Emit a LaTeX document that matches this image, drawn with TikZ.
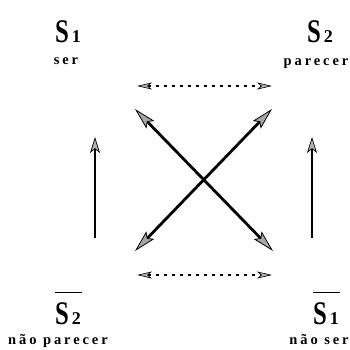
\documentclass[tikz,border=0pt]{standalone}
\usepackage{fontspec}
\setmainfont{Liberation Serif}
\usepackage{graphicx}
\usepackage{tikz}
\usetikzlibrary{arrows.meta,positioning}
\newcommand{\term}[2]{{\fontsize{33}{33}\selectfont\scalebox{0.75}[1]{#1}}\hspace{3pt}{\fontsize{18}{18}\selectfont #2}}
\newcommand{\negterm}[2]{\rlap{\raisebox{31pt}{\rule{27pt}{1pt}}}\term{#1}{#2}}
\begin{document}
\begin{tikzpicture}[
        x=1pt,y=-1pt,
        term/.style={font=\bfseries,inner sep=0pt,anchor=base west},
        gloss/.style={font=\fontsize{14.5}{14.5}\selectfont\addfontfeatures{LetterSpace=20}\bfseries,inner sep=0pt,anchor=base},
        diag/.style={{Stealth[length=22pt,width=11pt,inset=4pt,line width=0.8pt,fill=gray!70]}-{Stealth[length=22pt,width=11pt,inset=4pt,line width=0.8pt,fill=gray!70]},line width=2.8pt},
        vert/.style={-{Stealth[length=16pt,width=10pt,inset=4pt,line width=0.7pt,fill=gray!60]},line width=2pt},
        contra/.style={{Stealth[length=15pt,width=7pt,inset=4pt,line width=0.6pt,fill=gray!60]}-{Stealth[length=15pt,width=7pt,inset=4pt,line width=0.6pt,fill=gray!60]},line width=1.1pt,dash pattern=on 3pt off 5pt}
      ]
      \useasboundingbox (0,0) rectangle (350,350);

      % the four terms of the square
      \node[term] (s1) at (55,43) {\term{S}{1}};
      \node[gloss] (ser) at (66,65) {ser};
      \node[term] (s2) at (307,43) {\term{S}{2}};
      \node[gloss] (parecer) at (316,66) {parecer};
      \node[term] (ns2) at (55,324) {\negterm{S}{2}};
      \node[gloss] (naoparecer) at (58,344) {não parecer};
      \node[term] (ns1) at (313,324) {\negterm{S}{1}};
      \node[gloss] (naoser) at (319,344) {não ser};

      % arrow ends
      \coordinate (tl) at (137,86);
      \coordinate (tr) at (272,86);
      \coordinate (bl) at (137,275);
      \coordinate (br) at (272,275);
      \coordinate (ul) at (135,109);
      \coordinate (ur) at (272,109);
      \coordinate (ll) at (135,251);
      \coordinate (lr) at (273,251);
      \coordinate (lb) at (95,238);
      \coordinate (lt) at (95,137);
      \coordinate (rb) at (312,238);
      \coordinate (rt) at (312,137);

      \draw[contra] (tl) -- (tr);
      \draw[contra] (bl) -- (br);
      \draw[diag] (ul) -- (lr);
      \draw[diag] (ur) -- (ll);
      \draw[vert] (lb) -- (lt);
      \draw[vert] (rb) -- (rt);
    \end{tikzpicture}
\end{document}
